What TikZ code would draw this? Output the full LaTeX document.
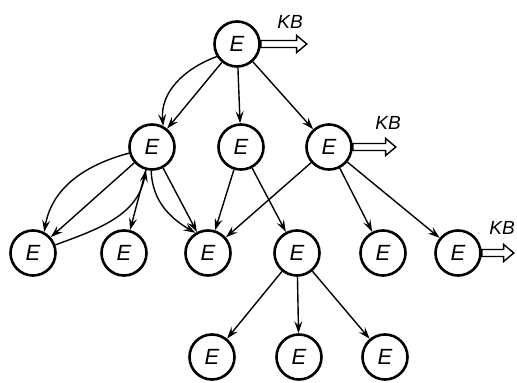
\documentclass[tikz,border=0pt]{standalone}
\usepackage{fontspec}
\setmainfont{Liberation Sans}
\usetikzlibrary{arrows.meta,shapes.arrows}
\begin{document}
\begin{tikzpicture}[x=1pt,y=1pt,
 enode/.style={circle, draw, line width=2.6pt, minimum size=45pt, inner sep=0pt, fill=white,
   font=\fontsize{22}{22}\selectfont\itshape},
 edge/.style={line width=1.4pt, -{Stealth[length=12pt,width=8pt,inset=4.5pt]}},
 kbarrow/.style={single arrow, draw, line width=1.4pt, inner sep=2.8pt,
   single arrow head extend=5pt, single arrow tip angle=80, anchor=tail,
   minimum height=#1, outer sep=0pt},
 kbarrow/.default=44pt,
 kbtext/.style={font=\fontsize{19}{19}\selectfont\itshape, inner sep=0pt}
]
\useasboundingbox (0,0) rectangle (517,383);
% nodes
\node[enode] (T) at (237,339) {E};
\node[enode] (A) at (152,236) {E};
\node[enode] (B) at (241,236) {E};
\node[enode] (C) at (329,236) {E};
\node[enode] (D) at (33,130) {E};
\node[enode] (F) at (124,130) {E};
\node[enode] (G) at (208,130) {E};
\node[enode] (H) at (297,130) {E};
\node[enode] (I) at (383,130) {E};
\node[enode] (J) at (458,130) {E};
\node[enode] (K) at (212,26) {E};
\node[enode] (L) at (299,26) {E};
\node[enode] (M) at (385,26) {E};
% KB outputs
\node[kbarrow=46pt] (kbT) at (T.east) {};
\node[kbtext] (kbTl) at (290,361) {KB};
\node[kbarrow=43pt] (kbC) at (C.east) {};
\node[kbtext] (kbCl) at (388,260) {KB};
\node[kbarrow=32pt] (kbJ) at (J.east) {};
\node[kbtext] (kbJl) at (502,155) {KB};
% straight edges
\draw[edge] (T) -- (A);
\draw[edge] (T) -- (B);
\draw[edge] (T) -- (C);
\draw[edge] (A) -- (D);
\draw[edge] (A) -- (F);
\draw[edge] (A) -- (G);
\draw[edge] (B) -- (G);
\draw[edge] (B) -- (H);
\draw[edge] (C) -- (G);
\draw[edge] (C) -- (I);
\draw[edge] (C) -- (J);
\draw[edge] (H) -- (K);
\draw[edge] (H) -- (L);
\draw[edge] (H) -- (M);
% curved edges
\draw[edge] (T.212) to[out=200, in=95] (A.62);
\draw[edge] (A.195) to[out=195, in=80] (D.62);
\draw[edge] (D.20) to[out=20, in=260] (A.255);
\draw[edge] (A.268) to[out=272, in=150] (G.122);
\end{tikzpicture}
\end{document}
